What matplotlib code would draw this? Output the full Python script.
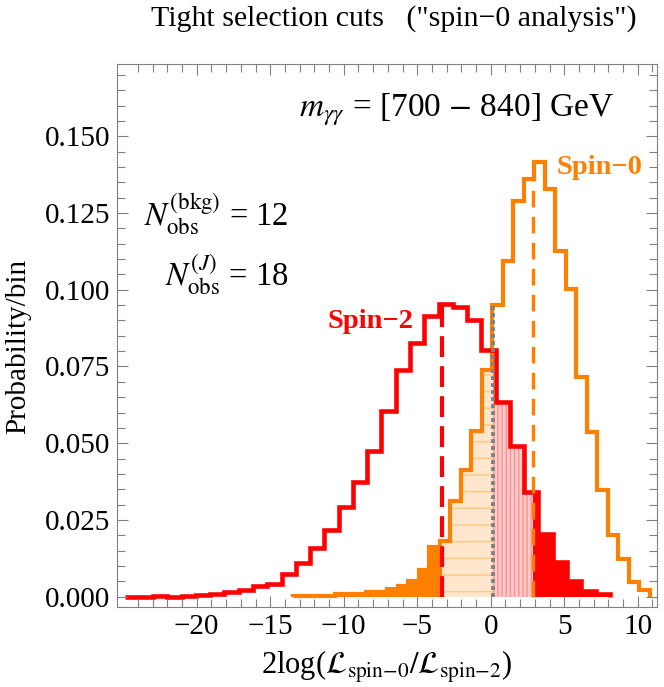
import numpy as np
import matplotlib
matplotlib.use("Agg")
import matplotlib.pyplot as plt
from matplotlib.ticker import FormatStrFormatter, MultipleLocator

plt.rcParams['font.family'] = ['Liberation Serif', 'DejaVu Serif']
plt.rcParams['mathtext.fontset'] = 'stix'
plt.rcParams['hatch.linewidth'] = 1.0

# spin-2 pseudo-experiments, 34 equal bins between these limits
spin2_lo, spin2_hi = -24.91, 8.10
spin2_prob = [0.0, 0.0, 0.0003, 0.0, 0.0002, 0.0006, 0.0009, 0.0014, 0.0022, 0.0033,
              0.0042, 0.0075, 0.0110, 0.0157, 0.0216, 0.0292, 0.0373, 0.0474, 0.0605, 0.0737,
              0.0828, 0.0916, 0.0954, 0.0943, 0.0900, 0.0804, 0.0634, 0.0492, 0.0340, 0.0204,
              0.0112, 0.0052, 0.0017, 0.0007]

# spin-0 pseudo-experiments, 34 equal bins
spin0_lo, spin0_hi = -13.46, 10.83
spin0_prob = [0.0003, 0.0003, 0.0003, 0.0003, 0.0009, 0.0009, 0.0009, 0.0014, 0.0014, 0.0025,
              0.0033, 0.0052, 0.0085, 0.0161, 0.0181, 0.0313, 0.0411, 0.0541, 0.0737, 0.0949,
              0.1095, 0.1291, 0.1362, 0.1416, 0.1330, 0.1128, 0.1003, 0.0715, 0.0536, 0.0349,
              0.0202, 0.0121, 0.0047, 0.0020]

median_spin2 = -3.33
median_spin0 = 2.85
observed = 0.15

x_major = [-20, -15, -10, -5, 0, 5, 10]
x_minor = list(range(-24, 12))

ORANGE = '#FF8000'
RED = '#FF0000'
GRAY = '#808080'

edges2 = np.linspace(spin2_lo, spin2_hi, len(spin2_prob) + 1)
edges0 = np.linspace(spin0_lo, spin0_hi, len(spin0_prob) + 1)


def value_at(edges, vals, x):
    i = np.clip(np.searchsorted(edges, x, side='right') - 1, 0, len(vals) - 1)
    return np.asarray(vals)[i]


def fill_part(ax, edges, vals, a, b, **kw):
    # fill under the histogram only between a and b
    inner = edges[(edges > a) & (edges < b)]
    xs = np.concatenate([[a], inner, [b]])
    ys = value_at(edges, vals, xs)
    ax.fill_between(xs, ys, step='post', **kw)


fig = plt.figure(figsize=(6.64, 6.87), dpi=100)
ax = fig.add_axes([0.1758, 0.116, 0.8137, 0.7908])

# tail areas
fill_part(ax, edges0, spin0_prob, spin0_lo, median_spin2, color=ORANGE, lw=0)
fill_part(ax, edges0, spin0_prob, median_spin2, observed,
          facecolor='#FFE6CC', edgecolor='#FFC880', hatch='-', lw=0)
fill_part(ax, edges2, spin2_prob, observed, median_spin0,
          facecolor='#FFCCCC', edgecolor='#FF9090', hatch='||||', lw=0)
fill_part(ax, edges2, spin2_prob, median_spin0, spin2_hi, color=RED, lw=0)

# histogram outlines
ax.stairs(spin0_prob, edges0, color=ORANGE, lw=3, baseline=0, joinstyle='miter')
ax.stairs(spin2_prob, edges2, color=RED, lw=3.3, baseline=0, joinstyle='miter')

# medians and observed value
ax.vlines(median_spin2, 0, value_at(edges2, spin2_prob, median_spin2),
          colors=RED, lw=3, linestyles=(0, (5, 2.2)))
ax.vlines(median_spin0, 0, value_at(edges0, spin0_prob, median_spin0),
          colors=ORANGE, lw=2.4, linestyles=(0, (5, 2.8)))
ax.vlines(observed, 0, max(value_at(edges0, spin0_prob, observed),
                           value_at(edges2, spin2_prob, observed)),
          colors=GRAY, lw=2.8, linestyles=(0, (1, 0.8)))

ax.set_xlim(-25.44, 11.31)
ax.set_ylim(-0.0035, 0.1736)
ax.set_xticks(x_major)
ax.set_xticks(x_minor, minor=True)
ax.yaxis.set_major_locator(MultipleLocator(0.025))
ax.yaxis.set_minor_locator(MultipleLocator(0.005))
ax.yaxis.set_major_formatter(FormatStrFormatter('%.3f'))
ax.tick_params(which='both', direction='in', top=True, right=True, color=GRAY,
               labelsize=21)
ax.tick_params(which='major', length=8, width=0.8)
ax.tick_params(which='minor', length=5.5, width=0.8)
ax.tick_params(axis='y', pad=4.5)
ax.tick_params(axis='x', pad=5)
for s in ax.spines.values():
    s.set_color(GRAY)
    s.set_linewidth(0.8)

ax.set_xlabel(r'2log($\mathcal{L}_{\mathrm{spin}{-}0}/\mathcal{L}_{\mathrm{spin}{-}2}$)',
              fontsize=22, va='baseline')
ax.xaxis.set_label_coords(0.5, -0.1215)
ax.set_ylabel('Probability/bin', fontsize=21)
ax.yaxis.set_label_coords(-0.159, 0.481)

fig.text(0.593, 0.962, 'Tight selection cuts   ("spin\u22120 analysis")',
         ha='center', va='baseline', fontsize=21.5)

ax.text(8.4, 0.1564, r'$m_{\gamma\gamma}$ = [700 $-$ 840] GeV', ha='right',
        va='baseline', fontsize=24)
ax.text(-13.74, 0.121, r'$N_{\rm obs}^{\rm (bkg)}$ = 12', ha='right',
        va='baseline', fontsize=23.5)
ax.text(-13.74, 0.1014, r'$N_{\rm obs}^{(J)}$ = 18', ha='right',
        va='baseline', fontsize=23.5)
ax.text(-11.08, 0.0874, 'Spin\u22122', color=RED, fontweight='bold',
        va='baseline', fontsize=20.5)
ax.text(4.47, 0.1376, 'Spin\u22120', color=ORANGE, fontweight='bold',
        va='baseline', fontsize=20.5)

fig.savefig('out.png', dpi=100)
